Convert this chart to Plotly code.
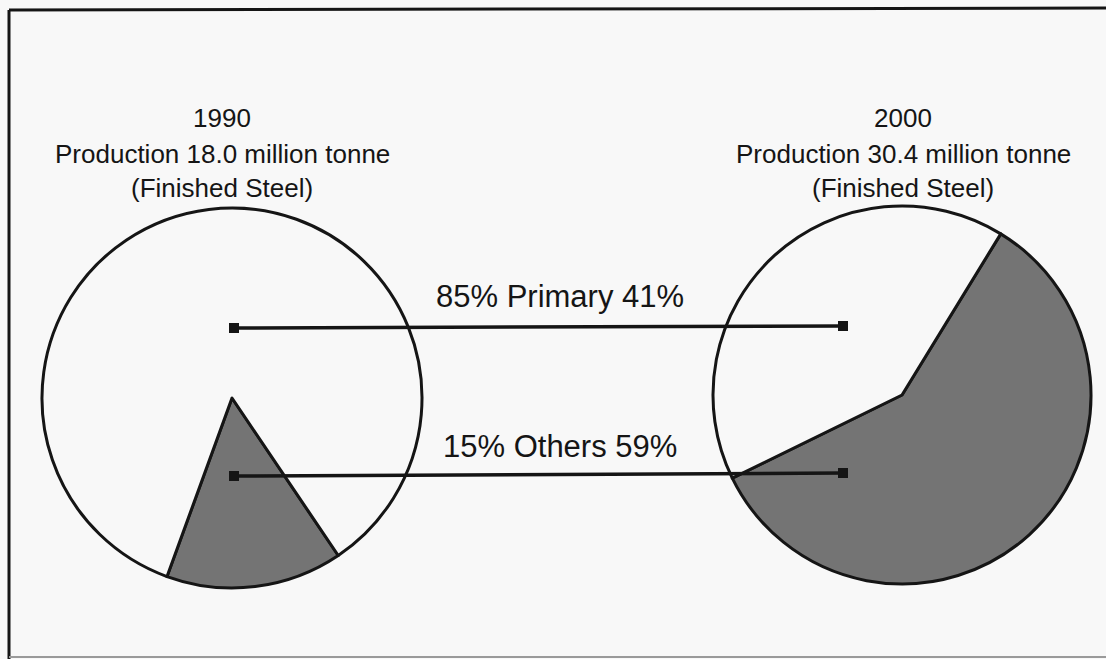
import plotly.graph_objects as go

# ---- data ----
years = ["1990", "2000"]
production = [18.0, 30.4]          # million tonne (finished steel)
categories = ["Others", "Primary"]
share_1990 = [15, 85]
share_2000 = [59, 41]

# ---- layout constants (pixels of the 1106x659 canvas) ----
W, H = 1106, 659
BG = "#f8f8f8"
DARK = "#747474"
INK = "#151515"

pie_specs = [
    # (cx, cy, r, rotation, values)
    (232, 398, 190, 146, share_1990),
    (902, 395, 189, 31.5, share_2000),
]
title_x = [222, 903]
title_y = [118, 154, 188]
left_x, right_x = 234, 843
conn_y = [(328, 326), (476, 473)]
label_pos = [(560, 296), (560, 446)]

fig = go.Figure()

for (cx, cy, r, rot, vals) in pie_specs:
    fig.add_trace(go.Pie(
        labels=categories,
        values=vals,
        sort=False,
        direction="clockwise",
        rotation=rot,
        textinfo="none",
        hoverinfo="label+percent",
        marker=dict(colors=[DARK, BG], line=dict(color=INK, width=3)),
        domain=dict(x=[(cx - r) / W, (cx + r) / W],
                    y=[(H - cy - r) / H, (H - cy + r) / H]),
        showlegend=False,
    ))

# invisible cartesian trace to establish pixel-like axes
fig.add_trace(go.Scatter(x=[0, W], y=[0, H], mode="markers",
                         marker=dict(opacity=0), hoverinfo="skip",
                         showlegend=False))

shapes = []
# frame
shapes.append(dict(type="line", xref="x", yref="y", x0=9, x1=W + 5, y0=10, y1=8,
                   line=dict(color=INK, width=3)))
shapes.append(dict(type="line", xref="x", yref="y", x0=9, x1=9, y0=10, y1=H,
                   line=dict(color=INK, width=3)))
shapes.append(dict(type="line", xref="x", yref="y", x0=9, x1=W, y0=657, y1=657,
                   line=dict(color="#9a9a9a", width=2)))

# connectors
for (yl, yr) in conn_y:
    shapes.append(dict(type="line", xref="x", yref="y", layer="above",
                       x0=left_x, x1=right_x, y0=yl, y1=yr,
                       line=dict(color=INK, width=3.5)))
    for (xx, yy) in [(left_x, yl), (right_x, yr)]:
        shapes.append(dict(type="rect", xref="x", yref="y", layer="above",
                           x0=xx - 5, x1=xx + 5, y0=yy - 5, y1=yy + 5,
                           fillcolor=INK, line=dict(width=0)))

annotations = []
FONT = "Liberation Sans, Arial, sans-serif"
for i in range(2):
    lines = [years[i],
             f"Production {production[i]:.1f} million tonne",
             "(Finished Steel)"]
    for j, t in enumerate(lines):
        annotations.append(dict(x=title_x[i], y=title_y[j], xref="x", yref="y",
                                text=t, showarrow=False,
                                font=dict(family=FONT, size=26, color=INK),
                                xanchor="center", yanchor="middle"))

for k, (lx, ly) in enumerate(label_pos):
    cat_idx = 1 if k == 0 else 0
    txt = f"{share_1990[cat_idx]}% {categories[cat_idx]} {share_2000[cat_idx]}%"
    annotations.append(dict(x=lx, y=ly, xref="x", yref="y", text=txt,
                            showarrow=False,
                            font=dict(family=FONT, size=31, color=INK),
                            xanchor="center", yanchor="middle"))

fig.update_layout(
    width=W, height=H,
    margin=dict(l=0, r=0, t=0, b=0),
    paper_bgcolor=BG, plot_bgcolor="rgba(0,0,0,0)",
    xaxis=dict(range=[0, W], visible=False, fixedrange=True, domain=[0, 1]),
    yaxis=dict(range=[H, 0], visible=False, fixedrange=True, domain=[0, 1]),
    shapes=shapes,
    annotations=annotations,
    showlegend=False,
)

fig.write_html(
    "out.html",
    config={"displayModeBar": False},
    post_script="document.body.style.margin='0';document.body.style.overflow='hidden';",
)
